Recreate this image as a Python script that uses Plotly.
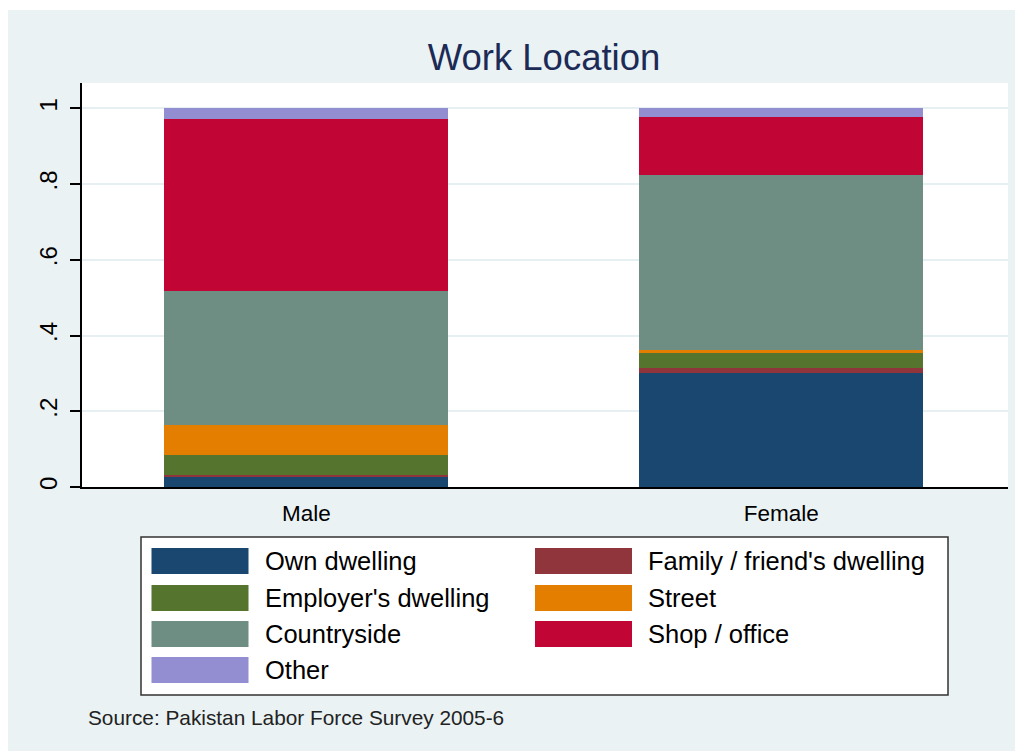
import plotly.graph_objs as go

# shares of workers by work location
groups = ["Male", "Female"]
own_dwelling = [0.028, 0.302]
family_dwelling = [0.004, 0.011]
employer_dwelling = [0.053, 0.041]
street = [0.079, 0.009]
countryside = [0.354, 0.460]
shop_office = [0.455, 0.154]
other = [0.027, 0.023]

series_names = ["Own dwelling", "Family / friend's dwelling", "Employer's dwelling",
                "Street", "Countryside", "Shop / office", "Other"]
series_values = [own_dwelling, family_dwelling, employer_dwelling,
                 street, countryside, shop_office, other]
colors = ["#1A476F", "#90353B", "#55752F", "#E37E00", "#6E8E84", "#C10534", "#938DD2"]

ytick_vals = [0, 0.2, 0.4, 0.6, 0.8, 1]
ytick_text = ["0", ".2", ".4", ".6", ".8", "1"]

# page body adds 8px margin, so figure coords = screen coords - 8
OFF = 8
W, H = 1023, 751
L, R, T, B = 82 - OFF, 1008 - OFF, 83 - OFF, 487 - OFF


def px(x):
    # screen x -> paper
    return (x - OFF - L) / (R - L)


def py(y):
    # screen y -> paper
    return (B - (y - OFF)) / (B - T)


fig = go.Figure()
for name, vals, col in zip(series_names, series_values, colors):
    fig.add_trace(go.Bar(x=groups, y=vals, name=name, width=0.598,
                         marker=dict(color=col, line=dict(width=0)),
                         showlegend=False))

shapes = [
    # white strip above the graph region
    dict(type="rect", xref="paper", yref="paper", x0=px(0), x1=px(1040), y0=py(10), y1=py(0),
         fillcolor="white", line=dict(width=0), layer="below"),
    # legend box
    dict(type="rect", xref="paper", yref="paper", x0=px(141), x1=px(948), y0=py(695), y1=py(537),
         fillcolor="white", line=dict(color="#333333", width=1.5)),
]
annotations = []

# legend, two columns, row-major
col_x = [151.5, 535]
row_y = [548, 585, 621, 657]
for i, (name, col) in enumerate(zip(series_names, colors)):
    r, c = divmod(i, 2)
    x0 = col_x[c]
    y0 = row_y[r]
    shapes.append(dict(type="rect", xref="paper", yref="paper",
                       x0=px(x0), x1=px(x0 + 97), y0=py(y0 + 26), y1=py(y0),
                       fillcolor=col, line=dict(width=0)))
    annotations.append(dict(text=name, xref="paper", yref="paper",
                            x=px(x0 + 111), y=py(y0 + 13), xanchor="left", yanchor="middle",
                            showarrow=False, font=dict(size=25.5, color="black")))

annotations.append(dict(text="Source: Pakistan Labor Force Survey 2005-6", xref="paper", yref="paper",
                        x=px(86), y=py(718), xanchor="left", yanchor="middle",
                        showarrow=False, font=dict(size=20.8, color="#222222")))

fig.update_layout(
    width=W, height=H,
    margin=dict(l=L, r=W - R, t=T, b=H - B),
    barmode="stack",
    paper_bgcolor="#EAF2F3",
    plot_bgcolor="white",
    font=dict(family="Liberation Sans, Arial, sans-serif", color="black"),
    title=dict(text="Work Location", x=px(544), xref="paper", xanchor="center",
               y=1 - (57 - OFF) / H, yanchor="middle",
               font=dict(size=36.5, color="#1C2A56")),
    shapes=shapes,
    annotations=annotations,
    showlegend=False,
)

fig.update_xaxes(range=[-0.4722, 1.4773], showgrid=False, showline=True, linecolor="black",
                 linewidth=1.5, ticks="outside", ticklen=5, tickcolor="rgba(0,0,0,0)",
                 tickfont=dict(size=22.5, color="black"), zeroline=False)
fig.update_yaxes(range=[0, 1.0668], tickvals=ytick_vals, ticktext=ytick_text, tickangle=-90,
                 showgrid=True, gridcolor="#E6EFF1", gridwidth=2, showline=True,
                 linecolor="black", linewidth=1.5, ticks="outside", ticklen=10,
                 tickcolor="black", tickwidth=1.5, tickfont=dict(size=24, color="black"),
                 ticklabelstandoff=4, zeroline=False)

fig.write_html("out.html")
